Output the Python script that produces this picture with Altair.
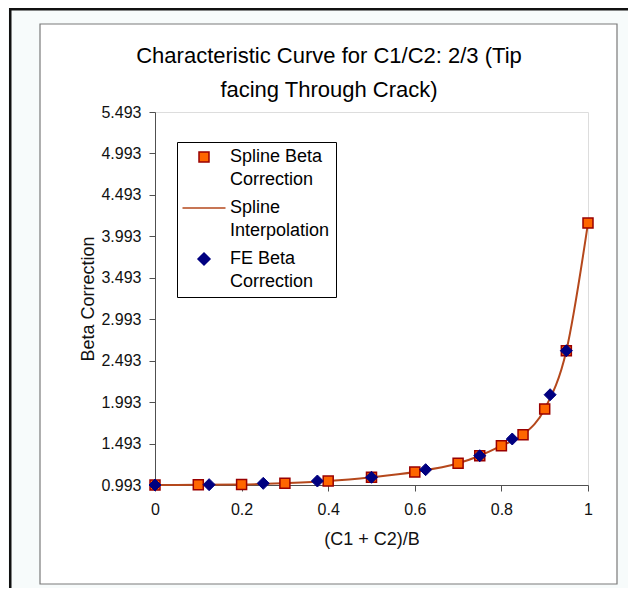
import altair as alt
import pandas as pd

# ---------------- data ----------------
spline_x = [0.0, 0.1, 0.2, 0.3, 0.4, 0.5, 0.6, 0.7, 0.75, 0.8, 0.85, 0.9, 0.95, 1.0]
spline_beta = [0.993, 0.996, 0.999, 1.015, 1.040, 1.086, 1.150, 1.255, 1.346,
               1.467, 1.600, 1.910, 2.613, 4.154]
fe_x = [0.0, 0.125, 0.25, 0.375, 0.5, 0.625, 0.75, 0.825, 0.9125, 0.95]
fe_beta = [0.993, 0.997, 1.013, 1.041, 1.086, 1.178, 1.346, 1.548, 2.082, 2.613]

series_names = ["Spline Beta|Correction", "Spline|Interpolation", "FE Beta|Correction"]
x_ticks = [0, 0.2, 0.4, 0.6, 0.8, 1.0]
y_ticks = [0.993, 1.493, 1.993, 2.493, 2.993, 3.493, 3.993, 4.493, 4.993, 5.493]
title_lines = ["Characteristic Curve for C1/C2: 2/3 (Tip", "facing Through Crack)"]
x_title = "(C1 + C2)/B"
y_title = "Beta Correction"

# ---------------- layout / style ----------------
FONT = "Liberation Sans"
W, H = 433, 373
PAD_L, PAD_T = 147, 104
CANVAS_W, CANVAS_H = 620, 580
PAD_R = CANVAS_W - PAD_L - W
PAD_B = CANVAS_H - PAD_T - H
LABEL_LH = 23          # line height of the two-line legend labels

line_df = pd.DataFrame({"x": spline_x, "beta": spline_beta, "series": series_names[1]})
sq_df = pd.DataFrame({"x": spline_x, "beta": spline_beta, "series": series_names[0]})
fe_df = pd.DataFrame({"x": fe_x, "beta": fe_beta, "series": series_names[2]})

xs = alt.Scale(domain=[0, 1], nice=False, zero=False)
ys = alt.Scale(domain=[y_ticks[0], y_ticks[-1]], nice=False, zero=False)

fill_scale = alt.Scale(domain=series_names, range=["#FF6600", "transparent", "#000080"])
stroke_scale = alt.Scale(domain=series_names, range=["#990000", "#B5481C", "#000080"])
shape_scale = alt.Scale(domain=series_names,
                        range=["square", "M-4.3,0L4.3,0", "M0,-1.2L1.2,0L0,1.2L-1.2,0Z"])

legend = alt.Legend(
    title=None, orient="none", legendX=22, legendY=30,
    labelExpr="split(datum.label, '|')",
    labelFont=FONT, labelFontSize=18, labelColor="#000000", labelLimit=300,
    labelBaseline="middle",
    fillColor="white", strokeColor="#000000", padding=6, rowPadding=10,
    symbolOffset=12, labelOffset=17, symbolSize=100, symbolStrokeWidth=1.5,
    zindex=2,
)

xaxis = alt.Axis(values=x_ticks, format="~g", grid=False, labelFlush=False,
                 labelFont=FONT, labelFontSize=16, labelColor="#111111",
                 titleFont=FONT, titleFontSize=18, titleFontWeight="normal", titleColor="#111111",
                 domainColor="#505050", tickColor="#505050", tickSize=6,
                 labelPadding=10, titlePadding=13)
yaxis = alt.Axis(values=y_ticks, format=".3f", grid=False, labelOverlap=False,
                 labelFont=FONT, labelFontSize=16, labelColor="#111111",
                 titleFont=FONT, titleFontSize=18, titleFontWeight="normal", titleColor="#111111",
                 domainColor="#505050", tickColor="#505050", tickSize=6,
                 labelPadding=8, titlePadding=3)

one = alt.Data(values=[{"a": 1}])


def deco(x1, x2, y1, y2, **kw):
    return alt.Chart(one).mark_rect(**kw).encode(
        x=alt.value(x1), x2=alt.value(x2), y=alt.value(y1), y2=alt.value(y2))


left, top = -PAD_L, -PAD_T
right, bottom = CANVAS_W - PAD_L, CANVAS_H - PAD_T
fx1, fx2, fy1, fy2 = -115, 462, -88, 472  # inner chart frame
TINT = "#F7FBFB"

decor = [
    deco(left, fx1, top, bottom, fill=TINT),
    deco(fx2, right, top, bottom, fill=TINT),
    deco(fx1, fx2, top, fy1, fill=TINT),
    deco(fx1, fx2, fy2, bottom, fill=TINT),
    deco(fx1, fx2, fy1, fy2, fill="transparent", stroke="#7A7A7A", strokeWidth=1.2),
    deco(left + 1, left + 3.5, top, bottom, fill="#111111"),
    deco(left + 1, right, top, top + 2.5, fill="#111111"),
]

title = alt.Chart(one).mark_text(
    text=title_lines, font=FONT, fontSize=22, color="#000000",
    align="center", baseline="alphabetic", lineHeight=34,
).encode(x=alt.value(174), y=alt.value(-49))

line = alt.Chart(line_df).mark_line(interpolate="monotone", strokeWidth=2).encode(
    x=alt.X("x:Q", scale=xs, axis=xaxis, title=x_title),
    y=alt.Y("beta:Q", scale=ys, axis=yaxis, title=y_title),
    stroke=alt.Stroke("series:N", scale=stroke_scale, legend=legend),
)

squares = alt.Chart(sq_df).mark_point(filled=True, size=100, strokeWidth=1.5, opacity=1).encode(
    x=alt.X("x:Q", scale=xs, axis=xaxis, title=x_title),
    y=alt.Y("beta:Q", scale=ys, axis=yaxis, title=y_title),
    fill=alt.Fill("series:N", scale=fill_scale, legend=legend),
    stroke=alt.Stroke("series:N", scale=stroke_scale, legend=legend),
    shape=alt.Shape("series:N", scale=shape_scale, legend=legend),
)

diamonds = alt.Chart(fe_df).mark_point(filled=True, size=100, strokeWidth=1, opacity=1).encode(
    x=alt.X("x:Q", scale=xs, axis=xaxis, title=x_title),
    y=alt.Y("beta:Q", scale=ys, axis=yaxis, title=y_title),
    fill=alt.Fill("series:N", scale=fill_scale, legend=legend),
    stroke=alt.Stroke("series:N", scale=stroke_scale, legend=legend),
    shape=alt.Shape("series:N", scale=shape_scale, legend=legend),
)

chart = alt.layer(*decor, title, line, squares, diamonds).properties(
    width=W, height=H,
    padding={"left": PAD_L, "top": PAD_T, "right": PAD_R, "bottom": PAD_B},
    autosize="none",
    background="white",
).configure_view(
    fill="#C0C0C0", stroke="#808080", strokeWidth=1
).configure(
    style={"guide-label": {"lineHeight": LABEL_LH}}
)

chart.save("out.html", embed_options={"renderer": "svg", "actions": False})
